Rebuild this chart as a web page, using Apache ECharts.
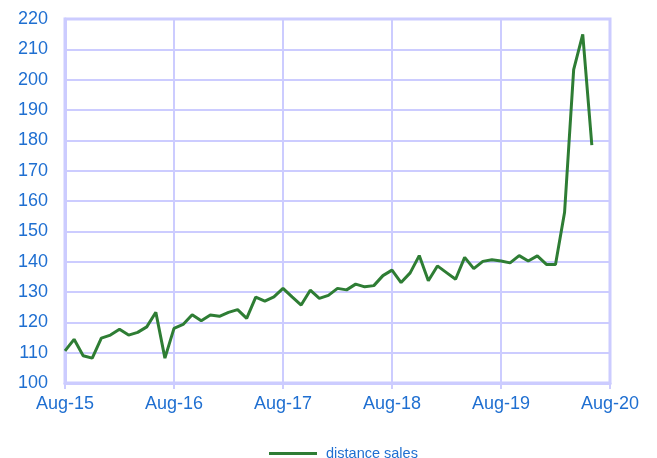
<!DOCTYPE html>
<html>
<head>
<meta charset="utf-8">
<script src="https://cdn.jsdelivr.net/npm/echarts@6/dist/echarts.min.js"></script>
<style>
html,body{margin:0;padding:0;background:#fff;}
#chart{width:657px;height:458px;}
</style>
</head>
<body>
<div id="chart"></div>
<script>
// months Aug-15 .. Aug-20 (axis), data runs to Jun-20
var monthNames = ['Jan','Feb','Mar','Apr','May','Jun','Jul','Aug','Sep','Oct','Nov','Dec'];
var months = [];
for (var k = 0; k <= 60; k++) {
    var m = (7 + k) % 12;
    var y = 15 + Math.floor((7 + k) / 12);
    months.push(monthNames[m] + '-' + y);
}

var distanceSales = [
    110.6, 114.4, 109.0, 108.2, 114.8, 115.8, 117.7, 115.8, 116.7, 118.5, 123.3, 108.2,
    118.0, 119.3, 122.5, 120.5, 122.4, 122.0, 123.3, 124.2, 121.3, 128.3, 127.0, 128.4,
    131.2, 128.4, 125.7, 130.6, 127.9, 128.9, 131.2, 130.7, 132.6, 131.7, 132.1, 135.4,
    137.2, 133.1, 136.3, 142.0, 133.7, 138.6, 136.4, 134.2, 141.4, 137.7, 140.1, 140.6,
    140.2, 139.6, 142.0, 140.2, 141.9, 139.1, 139.1, 156.3, 203.3, 214.9, 178.4
];

var blue = '#1f6fd1';
var lav = '#ccccff';
var green = '#2e7d34';

var myChart = echarts.init(document.getElementById('chart'));

var option = {
    backgroundColor: '#fff',
    animation: false,
    textStyle: { fontFamily: 'Liberation Sans, Arial, sans-serif' },
    grid: {
        left: 65, right: 47, top: 19, bottom: 75,
        show: true, borderColor: lav, borderWidth: 3
    },
    legend: {
        top: 441,
        left: 264,
        itemWidth: 48,
        itemHeight: 3,
        itemGap: 8,
        icon: 'rect',
        textStyle: { color: blue, fontSize: 14.5, padding: [0, 0, 0, 4], fontFamily: 'Liberation Sans, Arial, sans-serif' },
        data: [{ name: 'distance sales', icon: 'rect', itemStyle: { color: green } }]
    },
    xAxis: {
        type: 'category',
        data: months,
        boundaryGap: false,
        axisLine: { lineStyle: { color: lav, width: 3 } },
        axisTick: { show: true, interval: 11, length: 6, lineStyle: { color: lav, width: 2 } },
        axisLabel: { interval: 11, color: blue, fontSize: 18, margin: 12, showMaxLabel: true },
        splitLine: { show: true, interval: 11, lineStyle: { color: lav, width: 2 } }
    },
    yAxis: {
        type: 'value',
        min: 100,
        max: 220,
        interval: 10,
        axisLine: { show: true, lineStyle: { color: lav, width: 3 } },
        axisTick: { show: false },
        axisLabel: { color: blue, fontSize: 18, margin: 17 },
        splitLine: { lineStyle: { color: lav, width: 2 } }
    },
    series: [{
        name: 'distance sales',
        type: 'line',
        data: distanceSales,
        symbol: 'none',
        lineStyle: { color: green, width: 3 },
        itemStyle: { color: green }
    }]
};

myChart.setOption(option);
</script>
</body>
</html>
